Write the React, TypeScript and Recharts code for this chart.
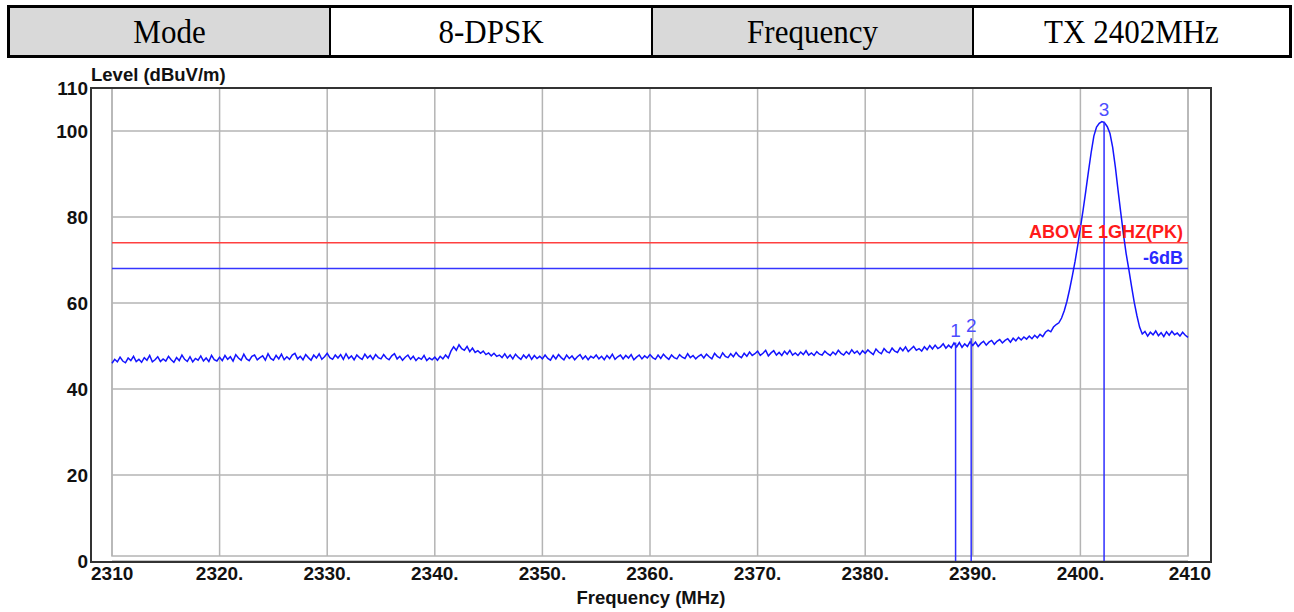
import React from "react";
import { LineChart, Line, XAxis, YAxis, CartesianGrid, ReferenceLine } from "recharts";

// header row above the plot
const headerCells = ["Mode", "8-DPSK", "Frequency", "TX 2402MHz"];
const headerShaded = [true, false, true, false];
const headerWidths = [319, 320, 319, 315];

const xTicks = [2310, 2320, 2330, 2340, 2350, 2360, 2370, 2380, 2390, 2400, 2410];
const xTickLabels = ["2310", "2320.", "2330.", "2340.", "2350.", "2360.", "2370.", "2380.", "2390.", "2400.", "2410"];
const yTicks = [0, 20, 40, 60, 80, 100, 110];

// sweep: 2310 MHz .. 2410 MHz, one reading every 0.25 MHz (dBuV/m)
const SWEEP_START = 2310;
const SWEEP_STEP = 0.25;
const levels = [
  46.0, 46.9, 46.3, 47.4, 46.5, 46.1, 47.2, 46.6, 47.6, 46.4, 46.9, 46.2, 47.3, 46.7, 47.8, 46.3, 46.8, 47.5, 46.4, 47.0,
  46.5, 47.6, 46.8, 46.2, 47.3, 46.6, 47.9, 46.9, 46.4, 47.5, 46.3, 47.1, 46.7, 47.7, 46.5, 47.2, 46.4, 47.8, 46.8, 46.5,
  47.4, 46.6, 47.8, 46.9, 47.5, 46.5, 48.0, 47.2, 46.7, 48.1, 47.0, 46.6, 47.6, 47.9, 46.8, 47.3, 47.7, 46.7, 48.2, 47.1,
  46.7, 47.8, 47.0, 48.1, 46.8, 47.5, 46.9, 47.9, 48.3, 47.0, 47.6, 46.8, 48.0, 47.3, 46.7, 47.9, 47.2, 48.2, 46.9, 47.5,
  48.3, 47.3, 46.9, 47.9, 47.2, 48.0, 46.9, 48.2, 47.1, 47.7, 46.8, 47.9, 47.3, 46.9, 48.1, 47.2, 47.8, 46.9, 48.0, 47.3,
  47.0, 48.0, 47.2, 46.8, 47.7, 48.2, 47.0, 47.6, 46.7, 47.4, 47.9, 46.9, 47.6, 46.6, 47.3, 46.9, 47.8, 46.6, 47.2, 46.8,
  47.4, 46.7, 47.6, 47.0, 47.9, 47.2, 48.8, 49.8, 49.0, 50.3, 49.4, 49.0, 49.9, 48.7, 49.5, 48.5, 48.9, 48.3, 48.8, 48.0,
  48.4, 47.7, 48.3, 47.6, 47.9, 47.3, 48.2, 47.2, 47.9, 47.0, 48.1, 47.4, 46.9, 47.9, 47.2, 48.0, 46.9, 47.8, 47.1, 47.6,
  47.0, 47.9, 47.1, 46.7, 47.8, 47.0, 48.0, 47.3, 46.8, 47.9, 47.1, 47.7, 46.8, 47.5, 48.0, 47.0, 47.7, 46.8, 47.6, 47.2,
  47.9, 47.0, 47.6, 46.8, 47.8, 47.1, 48.1, 46.9, 47.5, 47.9, 47.0, 47.8, 47.2, 48.0, 46.8, 47.4, 47.9, 47.0, 47.7, 47.2,
  48.0, 47.3, 46.9, 47.9, 47.1, 48.1, 47.4, 46.9, 47.9, 47.3, 47.0, 48.0, 47.4, 47.1, 48.2, 47.3, 47.8, 47.0, 47.6, 48.0,
  47.2, 48.1, 47.5, 47.0, 48.3, 47.6, 47.2, 48.4, 47.6, 47.3, 48.2, 47.5, 48.5, 47.7, 47.3, 48.3, 47.6, 48.6, 47.8, 48.2,
  48.8, 47.8, 48.3, 49.0, 47.7, 48.4, 48.9, 47.9, 48.5, 47.8, 48.8, 48.1, 49.0, 47.9, 48.4, 47.8, 48.6, 48.0, 48.9, 47.9,
  48.4, 47.8, 48.7, 48.1, 47.9, 48.8, 48.2, 47.8, 48.6, 48.0, 49.0, 48.3, 47.9, 48.7, 48.1, 49.1, 48.3, 48.8, 48.0, 48.9,
  48.3, 49.1, 48.5, 48.0, 49.3, 48.6, 48.2, 49.4, 48.7, 48.4, 49.5, 48.8, 48.5, 49.6, 48.9, 49.8, 48.7, 49.3, 49.9, 49.0,
  49.4, 48.8, 49.8, 49.1, 50.1, 49.3, 50.2, 49.4, 49.8, 50.5, 49.5, 50.2, 49.6, 50.7, 49.8, 50.8, 49.7, 50.5, 49.9, 51.0,
  50.1, 50.9, 49.9, 50.6, 51.1, 50.2, 50.9, 51.3, 50.4, 51.1, 51.5, 50.7, 51.3, 51.7, 50.9, 51.8, 51.2, 52.0, 51.4, 52.1,
  51.6, 52.3, 51.7, 52.5, 51.9, 52.7, 52.2, 53.2, 53.7, 53.3, 54.4, 55.0, 55.4, 56.5, 58.2, 60.4, 63.2, 66.3, 69.6, 73.4,
  77.5, 81.6, 86.0, 90.6, 95.0, 98.8, 100.9, 101.8, 102.2, 101.9, 101.0, 99.4, 96.2, 91.6, 86.2, 81.0, 76.0, 71.5, 67.8, 63.9,
  60.2, 57.1, 54.4, 52.8, 53.4, 52.3, 53.2, 52.6, 53.5, 52.4, 53.1, 52.2, 53.3, 52.5, 53.4, 52.6, 53.0, 52.3, 53.2, 52.5,
  52.0,
];

const limitLevel = 74;
const limitLabel = "ABOVE 1GHZ(PK)";
const marginLevel = 68;
const marginLabel = "-6dB";

const markerNames = ["1", "2", "3"];
const markerFreqs = [2388.4, 2389.85, 2402.2];
const markerLevels = [50.8, 51.8, 102.2];

const trace = levels.map((level, i) => ({ freq: SWEEP_START + i * SWEEP_STEP, level }));

const SANS = '"Liberation Sans", Arial, sans-serif';
const SERIF = '"Liberation Serif", "Times New Roman", serif';
const BLUE = "#1414ff";

function FreqTick({ x, y, payload }: any) {
  const i = xTicks.indexOf(payload.value);
  const last = xTicks.length - 1;
  const anchor = i === 0 ? "start" : i === last ? "end" : "middle";
  const dx = i === 0 ? -21 : i === last ? 23 : 0;
  return (
    <text x={x + dx} y={y} dy="0.71em" textAnchor={anchor} fill="#111" fontSize={19} fontWeight="bold" fontFamily={SANS}>
      {xTickLabels[i]}
    </text>
  );
}

export default function App() {
  return (
    <div style={{ position: "absolute", left: 0, top: 0, width: 1294, height: 612, background: "#fff" }}>
      {/* header table */}
      <div
        style={{
          position: "absolute",
          left: 7,
          top: 5,
          width: 1285,
          height: 53,
          border: "3px solid #000",
          boxSizing: "border-box",
          display: "flex",
        }}
      >
        {headerCells.map((t, i) => (
          <div
            key={t}
            style={{
              width: headerWidths[i],
              height: "100%",
              background: headerShaded[i] ? "#d9d9d9" : "#fff",
              borderRight: i < headerCells.length - 1 ? "2px solid #000" : "none",
              display: "flex",
              alignItems: "center",
              justifyContent: "center",
              fontFamily: SERIF,
              fontSize: 31,
              color: "#000",
            }}
          >
            <span style={{ display: "inline-block", transform: "scaleY(1.12)" }}>{t}</span>
          </div>
        ))}
      </div>

      {/* inner grid box, behind the chart */}
      <svg width={1294} height={612} style={{ position: "absolute", left: 0, top: 0 }}>
        <rect x={112} y={88} width={1076} height={468} fill="none" stroke="#b4b4b4" strokeWidth={1.5} />
      </svg>

      <div style={{ position: "absolute", left: 0, top: 0 }}>
        <LineChart width={1294} height={612} data={trace} margin={{ top: 88, right: 106, bottom: 21, left: 72 }}>
          <CartesianGrid stroke="#b4b4b4" strokeWidth={1.5} height={468} />
          <XAxis
            type="number"
            dataKey="freq"
            domain={[2310, 2410]}
            ticks={xTicks}
            interval={0}
            height={30}
            axisLine={false}
            tickLine={false}
            tickSize={0}
            tickMargin={6}
            tick={<FreqTick />}
          />
          <YAxis
            type="number"
            domain={[0, 110]}
            ticks={yTicks}
            interval={0}
            width={40}
            axisLine={false}
            tickLine={false}
            tickSize={0}
            tickMargin={24}
            tick={{ fill: "#111", fontSize: 19, fontWeight: "bold", fontFamily: SANS }}
          />
          <ReferenceLine
            y={limitLevel}
            stroke="#ff4040"
            strokeWidth={1.5}
            label={{
              value: limitLabel,
              position: "insideBottomRight",
              offset: 5,
              fill: "#ff1a1a",
              fontSize: 18,
              fontWeight: "bold",
              fontFamily: SANS,
            }}
          />
          <ReferenceLine
            y={marginLevel}
            stroke="#3535ff"
            strokeWidth={1.5}
            label={{
              value: marginLabel,
              position: "insideBottomRight",
              offset: 5,
              fill: "#2a2aff",
              fontSize: 18,
              fontWeight: "bold",
              fontFamily: SANS,
            }}
          />
          <Line
            type="linear"
            dataKey="level"
            stroke={BLUE}
            strokeWidth={1.5}
            dot={false}
            isAnimationActive={false}
          />
          {markerFreqs.map((f, i) => (
            <ReferenceLine
              key={markerNames[i]}
              segment={[
                { x: f, y: 0 },
                { x: f, y: markerLevels[i] },
              ]}
              stroke="#2e2eff"
              strokeWidth={1.5}
              label={{
                value: markerNames[i],
                position: "top",
                offset: 6,
                fill: "#4d4dff",
                fontSize: 19,
                fontFamily: SANS,
              }}
            />
          ))}
        </LineChart>
      </div>

      {/* outer frame and axis titles */}
      <svg width={1294} height={612} style={{ position: "absolute", left: 0, top: 0, pointerEvents: "none" }}>
        <rect x={91} y={88} width={1120} height={474} fill="none" stroke="#333" strokeWidth={2} />
        <text x={91} y={81} fill="#111" fontSize={18.5} fontWeight="bold" fontFamily={SANS}>
          Level (dBuV/m)
        </text>
        <text x={651} y={604} textAnchor="middle" fill="#111" fontSize={18.5} fontWeight="bold" fontFamily={SANS}>
          Frequency (MHz)
        </text>
      </svg>
    </div>
  );
}
